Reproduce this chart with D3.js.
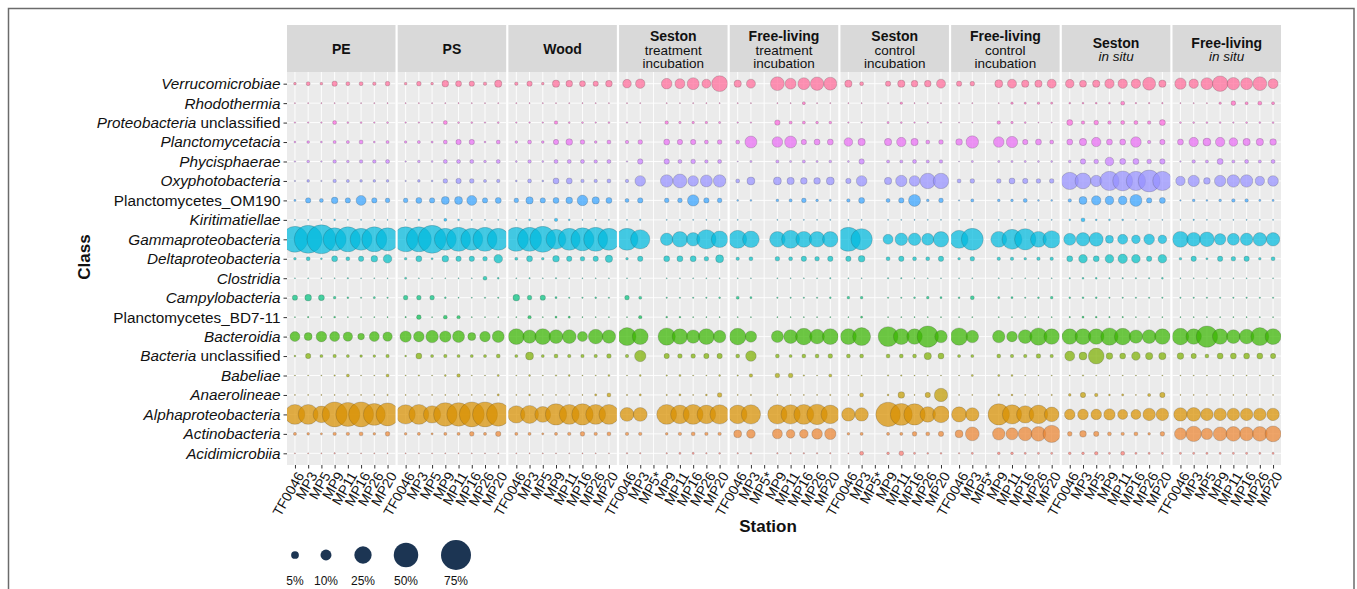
<!DOCTYPE html>
<html>
<head>
<meta charset="utf-8">
<script src="https://cdn.jsdelivr.net/npm/d3@7"></script>
<style>
  html, body { margin: 0; padding: 0; background: #fff; }
  svg { display: block; font-family: "Liberation Sans", Arial, Helvetica, sans-serif; }
</style>
</head>
<body>
<svg id="chart" width="1357" height="589"></svg>
<script>
// Bacterial classes, listed top to bottom
const classes = [
  "Verrucomicrobiae", "Rhodothermia", "Proteobacteria unclassified", "Planctomycetacia",
  "Phycisphaerae", "Oxyphotobacteria", "Planctomycetes_OM190", "Kiritimatiellae",
  "Gammaproteobacteria", "Deltaproteobacteria", "Clostridia", "Campylobacteria",
  "Planctomycetes_BD7-11", "Bacteroidia", "Bacteria unclassified", "Babeliae",
  "Anaerolineae", "Alphaproteobacteria", "Actinobacteria", "Acidimicrobiia"
];

// Station ticks: substrate / in situ panels and incubation panels
const stationsDefault = ["TF0046", "MP3", "MP5", "MP9", "MP11", "MP16", "MP26", "MP20"];
const stationsIncubation = ["TF0046", "MP3", "MP5*", "MP9", "MP11", "MP16", "MP26", "MP20"];

// Facet strip titles (first line bold, second line regular)
const facetTitles = ["PE", "PS", "Wood", "Seston", "Free-living", "Seston", "Free-living", "Seston", "Free-living"];
const facetSubtitles = ["", "", "", "treatment\nincubation", "treatment\nincubation",
  "control\nincubation", "control\nincubation", "in situ", "in situ"];
const facetIncubation = [false, false, false, true, true, true, true, false, false];

// Size legend breaks (%)
const legendBreaks = [5, 10, 25, 50, 75];

// Relative abundance (%) per class (rows, in class order) and station (columns)
const abundancePE = [
  [0.6, 1.3, 0.6, 2.4, 1.3, 1.3, 1.0, 1.8],
  [0.1, 0.1, 0.1, 0.1, 0.1, 0.1, 0.1, 0.1],
  [0.2, 0.2, 0.2, 1.3, 0.3, 0.3, 0.2, 0.3],
  [0.3, 0.6, 0.3, 0.8, 0.8, 1.3, 0.3, 0.8],
  [0.2, 0.6, 0.2, 1.0, 0.6, 1.0, 1.0, 1.3],
  [0.2, 0.6, 0.2, 1.0, 0.8, 0.6, 0.6, 0.6],
  [0.4, 2.4, 1.3, 3.7, 2.4, 8.3, 2.4, 1.8],
  [0.1, 0.1, 0.1, 0.3, 0.1, 0.1, 0.1, 0.1],
  [56, 65, 70, 44, 52, 40, 52, 44],
  [0.6, 1.3, 0.3, 3.0, 1.3, 2.4, 3.7, 6.2],
  [0.1, 0.1, 0.1, 0.1, 0.2, 0.1, 0.1, 0.1],
  [2.4, 3.7, 3.0, 0.6, 0.3, 0.2, 0.4, 0.2],
  [0.1, 0.2, 0.1, 0.3, 0.1, 0.1, 0.1, 0.1],
  [8.3, 5.3, 9.4, 8.3, 7.4, 3.7, 8.3, 7.4],
  [0.3, 2.4, 0.8, 1.0, 0.8, 0.6, 0.6, 1.0],
  [0.1, 0.1, 0.1, 0.2, 0.75, 0.1, 0.1, 0.75],
  [0.1, 0.1, 0.1, 0.1, 0.1, 0.1, 0.1, 0.2],
  [33, 33, 23, 52, 48, 52, 40, 44],
  [0.8, 0.6, 0.4, 1.0, 1.0, 1.3, 0.6, 1.8],
  [0.1, 0.1, 0.1, 0.2, 0.1, 0.1, 0.1, 0.1]
];

const abundancePS = [
  [0.6, 1.8, 0.6, 3.7, 3.0, 2.4, 1.0, 4.5],
  [0.1, 0.1, 0.1, 0.1, 0.1, 0.1, 0.1, 0.1],
  [0.2, 0.2, 0.2, 1.3, 0.3, 0.3, 0.2, 0.3],
  [0.5, 0.8, 0.4, 1.3, 2.4, 2.4, 0.3, 1.3],
  [0.2, 0.6, 0.3, 1.3, 1.3, 1.3, 0.6, 1.3],
  [0.2, 0.6, 0.3, 1.8, 2.4, 1.8, 0.8, 1.0],
  [1.8, 3.0, 2.4, 5.3, 5.3, 8.3, 2.4, 3.0],
  [0.1, 0.3, 0.1, 0.75, 0.3, 0.1, 0.1, 0.1],
  [52, 52, 65, 40, 48, 40, 48, 40],
  [0.6, 3.0, 0.4, 3.7, 2.4, 2.4, 1.8, 6.2],
  [0.4, 0.1, 0.1, 0.1, 0.1, 0.1, 1.3, 0.3],
  [1.8, 1.8, 1.8, 0.3, 0.1, 0.1, 0.2, 0.2],
  [0.2, 1.8, 0.1, 1.3, 1.0, 0.1, 0.1, 0.1],
  [10.8, 9.4, 13, 10.8, 12, 5.3, 9.4, 12],
  [0.3, 3.0, 0.8, 1.0, 0.8, 0.8, 0.8, 1.3],
  [0.1, 0.2, 0.1, 0.3, 1.0, 0.1, 0.1, 0.4],
  [0.1, 0.1, 0.1, 0.1, 0.1, 0.1, 0.1, 0.4],
  [31, 33, 25, 46, 46, 52, 52, 46],
  [0.6, 0.8, 0.4, 0.8, 0.8, 1.8, 0.8, 2.4],
  [0.1, 0.1, 0.1, 0.1, 0.1, 0.1, 0.1, 0.1]
];

const abundanceWood = [
  [1.0, 2.4, 0.6, 4.5, 3.7, 3.0, 2.4, 3.7],
  [0.1, 0.1, 0.1, 0.1, 0.1, 0.1, 0.1, 0.1],
  [0.2, 0.2, 0.2, 1.0, 0.3, 0.3, 0.2, 0.3],
  [0.6, 1.3, 0.6, 2.4, 3.7, 1.8, 0.6, 1.3],
  [0.3, 1.0, 0.3, 1.3, 1.3, 1.3, 1.0, 1.3],
  [0.3, 1.3, 0.3, 3.0, 3.0, 1.0, 1.0, 1.3],
  [1.8, 4.5, 2.4, 3.0, 3.7, 9.4, 4.5, 3.0],
  [0.1, 0.3, 0.1, 1.0, 0.3, 0.1, 0.1, 0.1],
  [48, 48, 56, 33, 40, 44, 48, 40],
  [0.8, 3.0, 0.6, 3.7, 2.4, 1.8, 2.4, 4.5],
  [0.1, 0.2, 0.1, 0.2, 0.1, 0.1, 0.1, 0.1],
  [3.7, 1.8, 2.4, 0.4, 0.2, 0.2, 0.3, 0.2],
  [0.1, 1.0, 0.1, 0.4, 0.4, 0.1, 0.1, 0.1],
  [21, 15, 21, 16, 16, 8.3, 18, 15],
  [0.8, 5.3, 0.8, 1.3, 1.0, 1.0, 1.0, 1.8],
  [0.1, 0.3, 0.1, 0.2, 0.3, 0.1, 0.1, 0.3],
  [0.1, 0.3, 0.1, 0.1, 0.1, 0.1, 0.4, 1.3],
  [25, 27, 21, 38, 33, 38, 33, 33],
  [0.8, 0.8, 0.4, 0.8, 1.0, 1.8, 1.0, 1.3],
  [0.1, 0.1, 0.1, 0.1, 0.1, 0.1, 0.1, 0.1]
];

const abundanceSestonTreatment = [
  [6.2, 7.4, null, 9.4, 8.3, 12, 6.8, 21],
  [0.1, 0.1, null, 0.1, 0.1, 0.1, 0.1, 0.1],
  [0.2, 0.2, null, 1.0, 0.5, 0.5, 0.5, 0.4],
  [1.0, 1.8, null, 3.0, 2.4, 2.4, 1.3, 1.8],
  [0.2, 2.4, null, 2.4, 1.3, 1.8, 1.0, 1.3],
  [1.0, 9.4, null, 13, 16, 9.4, 12, 13],
  [1.3, 2.4, null, 1.8, 1.8, 10.8, 2.4, 1.8],
  [0.1, 0.2, null, 0.1, 0.1, 0.1, 0.1, 0.1],
  [40, 31, null, 13, 20, 15, 31, 23],
  [0.6, 2.4, null, 3.0, 3.0, 3.0, 1.8, 5.3],
  [0.1, 0.1, null, 0.1, 0.1, 0.1, 0.1, 0.1],
  [1.8, 0.8, null, 0.2, 0.2, 0.2, 0.2, 0.3],
  [0.1, 1.0, null, 0.3, 0.3, 0.1, 0.1, 0.1],
  [27, 21, null, 25, 20, 15, 21, 13],
  [1.0, 10.8, null, 2.4, 1.8, 1.8, 2.4, 2.4],
  [0.1, 0.3, null, 0.2, 0.4, 0.1, 0.1, 0.3],
  [0.2, 0.4, null, 0.2, 0.4, 0.1, 0.3, 1.8],
  [16, 16, null, 33, 29, 33, 29, 31],
  [1.0, 1.0, null, 0.6, 1.0, 1.3, 1.0, 1.0],
  [0.2, 0.2, null, 0.2, 0.4, 0.4, 0.2, 0.3]
];

const abundanceFreeTreatment = [
  [4.5, 6.8, null, 16, 10, 12, 15, 14],
  [0.1, 0.1, null, 0.1, 0.1, 0.75, 0.1, 0.1],
  [0.2, 0.2, null, 2.4, 0.75, 0.75, 0.6, 0.6],
  [1.3, 12, null, 9.4, 12, 2.4, 3.0, 3.0],
  [0.1, 0.4, null, 0.8, 0.4, 0.8, 0.4, 0.6],
  [1.3, 5.3, null, 5.3, 4.5, 3.7, 3.7, 5.3],
  [0.3, 0.3, null, 0.6, 0.8, 1.8, 0.6, 0.4],
  [0.1, 0.1, null, 0.1, 0.1, 0.1, 0.1, 0.1],
  [27, 23, null, 20, 27, 21, 20, 20],
  [1.0, 1.3, null, 1.8, 1.3, 2.4, 1.8, 2.4],
  [0.1, 0.1, null, 0.1, 0.1, 0.1, 0.1, 0.2],
  [0.8, 0.4, null, 0.2, 0.2, 0.2, 0.2, 0.3],
  [0.1, 0.1, null, 0.1, 0.1, 0.1, 0.1, 0.1],
  [23, 10.8, null, 12, 16, 23, 18, 21],
  [1.3, 9.4, null, 1.3, 0.8, 1.3, 1.3, 1.8],
  [0.2, 1.0, null, 1.8, 1.8, 0.2, 0.1, 0.8],
  [0.1, 0.2, null, 0.1, 0.1, 0.1, 0.1, 0.2],
  [29, 31, null, 31, 31, 33, 35, 29],
  [5.3, 6.2, null, 8.3, 6.2, 6.2, 9.4, 10.8],
  [0.2, 0.3, null, 0.2, 0.2, 0.2, 0.2, 0.2]
];

const abundanceSestonControl = [
  [4.5, 1.3, null, 2.4, 4.5, 3.7, 3.7, 6.8],
  [0.1, 0.1, null, 0.1, 0.5, 0.1, 0.1, 0.1],
  [0.2, 0.2, null, 0.4, 0.3, 0.2, 0.2, 0.2],
  [6.2, 4.5, null, 4.5, 7.4, 4.5, 1.3, 1.8],
  [0.3, 2.4, null, 0.8, 0.8, 1.3, 0.8, 1.0],
  [2.4, 9.4, null, 4.5, 10.8, 9.4, 20, 20],
  [1.0, 3.0, null, 1.3, 2.4, 12, 0.6, 1.8],
  [0.1, 0.1, null, 0.1, 0.1, 0.1, 0.1, 0.1],
  [48, 38, null, 8.3, 13, 13, 12, 20],
  [2.4, 3.7, null, 1.3, 2.4, 1.3, 1.3, 2.4],
  [0.1, 0.1, null, 0.2, 0.2, 0.1, 0.1, 0.1],
  [0.6, 0.6, null, 0.2, 0.2, 0.3, 0.6, 0.4],
  [0.1, 0.4, null, 0.1, 0.1, 0.1, 0.1, 0.1],
  [21, 27, null, 33, 21, 20, 38, 13],
  [1.3, 1.3, null, 1.3, 1.3, 1.3, 4.5, 3.0],
  [0.1, 0.1, null, 0.2, 0.2, 0.1, 0.1, 0.1],
  [0.1, 1.3, null, 0.3, 3.7, 0.1, 2.4, 15],
  [15, 15, null, 50, 40, 38, 20, 23],
  [0.6, 0.8, null, 0.8, 0.8, 1.8, 1.3, 2.4],
  [0.1, 1.3, null, 0.6, 1.8, 0.4, 0.3, 0.3]
];

const abundanceFreeControl = [
  [2.4, 1.8, null, 5.3, 6.8, 4.5, 4.5, 6.8],
  [0.1, 0.1, null, 0.1, 0.5, 0.4, 0.5, 0.4],
  [0.1, 0.1, null, 1.0, 0.5, 0.3, 0.1, 0.1],
  [3.7, 13, null, 9.4, 10.8, 2.4, 3.0, 1.3],
  [0.1, 0.4, null, 0.4, 0.4, 0.4, 0.3, 0.3],
  [1.3, 1.8, null, 1.8, 3.0, 2.4, 1.8, 1.8],
  [0.2, 0.8, null, 0.6, 0.6, 1.3, 0.3, 0.3],
  [0.1, 0.1, null, 0.1, 0.1, 0.1, 0.1, 0.1],
  [27, 40, null, 21, 33, 38, 21, 25],
  [0.6, 1.8, null, 1.0, 1.0, 0.6, 1.0, 1.0],
  [0.1, 0.1, null, 0.1, 0.1, 0.1, 0.1, 0.1],
  [0.3, 1.3, null, 0.4, 0.4, 0.2, 0.3, 0.6],
  [0.1, 0.1, null, 0.1, 0.1, 0.1, 0.1, 0.1],
  [25, 13, null, 13, 9.4, 16, 25, 20],
  [0.8, 0.8, null, 1.3, 1.0, 1.0, 1.8, 1.0],
  [0.1, 0.4, null, 0.4, 0.3, 0.1, 0.1, 0.1],
  [0.1, 0.1, null, 0.3, 0.3, 0.1, 0.1, 0.2],
  [19, 15, null, 38, 31, 25, 29, 18],
  [5.3, 16, null, 13, 12, 16, 18, 25],
  [0.2, 0.4, null, 0.6, 0.6, 0.4, 0.4, 0.4]
];

const abundanceSestonInSitu = [
  [6.2, 4.1, 4.5, 7.4, 7.4, 7.4, 14, 4.5],
  [0.3, 0.3, 0.3, 0.3, 1.3, 0.2, 0.2, 0.2],
  [3.0, 1.0, 1.8, 1.0, 1.3, 1.3, 1.0, 3.0],
  [3.0, 4.5, 7.4, 3.0, 3.0, 9.4, 1.0, 2.4],
  [0.6, 2.4, 1.8, 6.2, 3.0, 3.0, 1.8, 2.4],
  [25, 21, 10.8, 31, 33, 31, 40, 31],
  [1.0, 5.3, 7.4, 6.2, 6.2, 12, 2.4, 3.0],
  [0.3, 1.3, 0.3, 0.3, 0.3, 0.1, 0.1, 0.1],
  [12, 15, 16, 5.3, 8.3, 6.2, 9.4, 6.2],
  [3.0, 6.2, 3.0, 6.2, 7.4, 6.2, 2.4, 6.2],
  [0.2, 0.3, 0.3, 0.2, 0.2, 0.2, 0.2, 0.3],
  [0.3, 0.3, 0.3, 0.2, 0.2, 0.2, 0.2, 0.2],
  [0.2, 0.4, 0.3, 0.2, 0.2, 0.1, 0.1, 0.1],
  [20, 21, 20, 25, 23, 15, 16, 20],
  [8.3, 5.3, 21, 3.7, 3.0, 6.2, 4.5, 4.5],
  [0.1, 0.2, 0.1, 0.1, 0.1, 0.1, 0.1, 0.1],
  [0.6, 2.4, 1.0, 0.3, 0.4, 0.1, 0.8, 2.4],
  [9.4, 9.4, 9.4, 10.8, 8.3, 8.3, 13, 13],
  [1.8, 3.7, 2.4, 1.3, 1.0, 1.3, 0.6, 1.8],
  [0.6, 0.6, 1.0, 0.4, 1.3, 0.4, 0.4, 0.4]
];

const abundanceFreeInSitu = [
  [10.8, 7.4, 12, 20, 13, 12, 16, 8.3],
  [0.1, 0.1, 0.1, 0.5, 1.8, 0.75, 1.3, 0.75],
  [0.3, 0.3, 0.3, 0.3, 0.2, 0.3, 0.3, 0.3],
  [3.0, 7.4, 5.3, 7.4, 6.2, 4.5, 4.5, 3.7],
  [0.2, 1.0, 0.8, 3.0, 0.8, 1.3, 0.8, 1.3],
  [7.4, 10.8, 3.7, 10.8, 13, 13, 7.4, 9.4],
  [0.2, 0.6, 0.3, 0.6, 1.0, 1.0, 0.4, 0.4],
  [0.1, 0.2, 0.1, 0.1, 0.1, 0.1, 0.1, 0.1],
  [21, 16, 18, 10.8, 12, 13, 15, 15],
  [0.6, 2.4, 0.4, 2.4, 1.8, 2.4, 0.6, 1.3],
  [0.1, 0.1, 0.1, 0.1, 0.1, 0.1, 0.1, 0.1],
  [0.2, 0.2, 0.2, 0.2, 0.2, 0.2, 0.2, 0.2],
  [0.1, 0.1, 0.1, 0.1, 0.1, 0.1, 0.1, 0.1],
  [23, 20, 38, 20, 16, 18, 27, 21],
  [3.7, 2.4, 1.3, 3.0, 3.0, 3.0, 3.0, 2.4],
  [0.1, 0.1, 0.1, 0.1, 0.1, 0.1, 0.1, 0.1],
  [0.1, 0.1, 0.1, 0.1, 0.1, 0.1, 0.1, 0.1],
  [15, 16, 13, 13, 13, 13, 13, 13],
  [12, 20, 10.8, 16, 18, 16, 18, 21],
  [0.4, 0.4, 0.4, 0.4, 0.4, 0.4, 0.4, 0.4]
];

const facetData = [abundancePE, abundancePS, abundanceWood,
  abundanceSestonTreatment, abundanceFreeTreatment,
  abundanceSestonControl, abundanceFreeControl,
  abundanceSestonInSitu, abundanceFreeInSitu];

// ---------------------------------------------------------------
const svg = d3.select("#chart");
const layout = { left: 287, right: 1281, gap: 2.2, stripTop: 25, top: 72, bottom: 465 };
const nFacets = facetTitles.length;
const panelW = (layout.right - layout.left - layout.gap * (nFacets - 1)) / nFacets;
const textColor = "#111";
const fontFamily = "Liberation Sans, Arial, sans-serif";

// outer frame
svg.append("rect")
  .attr("x", 8.5).attr("y", 8.5).attr("width", 1345.5).attr("height", 700)
  .attr("fill", "none").attr("stroke", "#6b6b6b").attr("stroke-width", 1.5);

// ggplot-like hue palette, assigned bottom-up
const hueColors = ["#F8766D", "#EA8331", "#D89000", "#C09B00", "#A3A500", "#7CAE00", "#39B600",
  "#00BB4E", "#00BF7D", "#00C1A3", "#00BFC4", "#00BADE", "#00B0F6", "#35A2FF", "#9590FF",
  "#C77CFF", "#E76BF3", "#FA62DB", "#FF62BC", "#FF6A98"];
const color = d3.scaleOrdinal().domain(classes.slice().reverse()).range(hueColors);

const y = d3.scalePoint().domain(classes).range([layout.top, layout.bottom]).padding(0.6);
const size = d3.scaleSqrt().domain([0, 75]).range([0, 15]);

const defs = svg.append("defs");

facetTitles.forEach((title, fi) => {
  const x0 = layout.left + fi * (panelW + layout.gap);
  const stations = facetIncubation[fi] ? stationsIncubation : stationsDefault;
  const x = d3.scalePoint().domain(stations).range([0, panelW]).padding(0.6);
  const g = svg.append("g").attr("transform", `translate(${x0},0)`);

  // strip
  g.append("rect").attr("x", 0).attr("y", layout.stripTop)
    .attr("width", panelW).attr("height", layout.top - layout.stripTop)
    .attr("fill", "#d9d9d9");
  const sub = facetSubtitles[fi];
  const strip = g.append("text").attr("text-anchor", "middle")
    .attr("fill", textColor).style("font-size", "13.5px");
  if (sub === "") {
    strip.append("tspan").attr("x", panelW / 2).attr("y", 54)
      .style("font-weight", "bold").style("font-size", "14px").text(title);
  } else if (sub.indexOf("\n") >= 0) {
    const parts = sub.split("\n");
    strip.append("tspan").attr("x", panelW / 2).attr("y", 41)
      .style("font-weight", "bold").style("font-size", "14px").text(title);
    parts.forEach((p, i) => strip.append("tspan").attr("x", panelW / 2)
      .attr("y", 54.5 + i * 13).text(p));
  } else {
    strip.append("tspan").attr("x", panelW / 2).attr("y", 48)
      .style("font-weight", "bold").style("font-size", "14px").text(title);
    strip.append("tspan").attr("x", panelW / 2).attr("y", 61)
      .style("font-style", "italic").text(sub);
  }

  // panel background and grid
  g.append("rect").attr("x", 0).attr("y", layout.top)
    .attr("width", panelW).attr("height", layout.bottom - layout.top)
    .attr("fill", "#ebebeb");
  g.append("g").selectAll("line.h").data(classes).join("line")
    .attr("x1", 0).attr("x2", panelW)
    .attr("y1", d => y(d)).attr("y2", d => y(d))
    .attr("stroke", "#fff").attr("stroke-width", 0.9);
  g.append("g").selectAll("line.v").data(stations).join("line")
    .attr("x1", d => x(d)).attr("x2", d => x(d))
    .attr("y1", layout.top).attr("y2", layout.bottom)
    .attr("stroke", "#fff").attr("stroke-width", 0.9);

  // bubbles, clipped to the panel
  const clipId = "clip" + fi;
  defs.append("clipPath").attr("id", clipId).append("rect")
    .attr("x", 0).attr("y", layout.top)
    .attr("width", panelW).attr("height", layout.bottom - layout.top);
  const points = [];
  facetData[fi].forEach((row, ci) => {
    row.forEach((v, si) => {
      if (v !== null) points.push({ cls: classes[ci], station: stations[si], value: v });
    });
  });
  g.append("g").attr("clip-path", `url(#${clipId})`)
    .selectAll("circle").data(points).join("circle")
    .attr("cx", d => x(d.station)).attr("cy", d => y(d.cls))
    .attr("r", d => Math.max(size(d.value), 0.6))
    .attr("fill", d => color(d.cls)).attr("fill-opacity", 0.72)
    .attr("stroke", "#3a3a3a").attr("stroke-opacity", 0.35).attr("stroke-width", 0.6);

  // x axis
  const ax = g.append("g").attr("transform", `translate(0,${layout.bottom})`)
    .call(d3.axisBottom(x).tickSize(3.5).tickPadding(2));
  ax.select(".domain").remove();
  ax.selectAll(".tick line").attr("stroke", "#333");
  ax.selectAll(".tick text")
    .attr("x", 0).attr("y", 0).attr("dy", "0.35em")
    .attr("transform", "translate(5,8) rotate(-60)")
    .style("text-anchor", "end").style("font-size", "14px")
    .style("font-family", fontFamily)
    .attr("fill", textColor);
});

// y axis
const ay = svg.append("g").attr("transform", `translate(${layout.left},0)`)
  .call(d3.axisLeft(y).tickSize(3.5).tickPadding(3));
ay.select(".domain").remove();
ay.selectAll(".tick line").attr("stroke", "#333");
ay.selectAll(".tick text")
  .style("font-size", "15.3px").style("font-family", fontFamily)
  .attr("fill", textColor)
  .each(function (d) {
    const t = d3.select(this);
    t.text(null);
    if (d.indexOf("_") >= 0) {
      t.append("tspan").text(d);
    } else if (d.endsWith(" unclassified")) {
      t.append("tspan").style("font-style", "italic").text(d.replace(" unclassified", ""));
      t.append("tspan").text(" unclassified");
    } else {
      t.append("tspan").style("font-style", "italic").text(d);
    }
  });

// axis titles
svg.append("text").attr("transform", "translate(90,257) rotate(-90)")
  .attr("text-anchor", "middle").style("font-size", "17px").style("font-weight", "bold")
  .attr("fill", textColor).text("Class");
svg.append("text").attr("x", 768).attr("y", 532)
  .attr("text-anchor", "middle").style("font-size", "17px").style("font-weight", "bold")
  .attr("fill", textColor).text("Station");

// size legend
const legendPos = d3.scaleOrdinal().domain(legendBreaks).range([295, 326, 363, 406, 456]);
const lg = svg.append("g");
lg.selectAll("circle").data(legendBreaks).join("circle")
  .attr("cx", d => legendPos(d)).attr("cy", 555)
  .attr("r", d => size(d)).attr("fill", "#1c3553");
lg.selectAll("text").data(legendBreaks).join("text")
  .attr("x", d => legendPos(d)).attr("y", 585)
  .attr("text-anchor", "middle").style("font-size", "12px").attr("fill", textColor)
  .text(d => d + "%");
</script>
</body>
</html>
